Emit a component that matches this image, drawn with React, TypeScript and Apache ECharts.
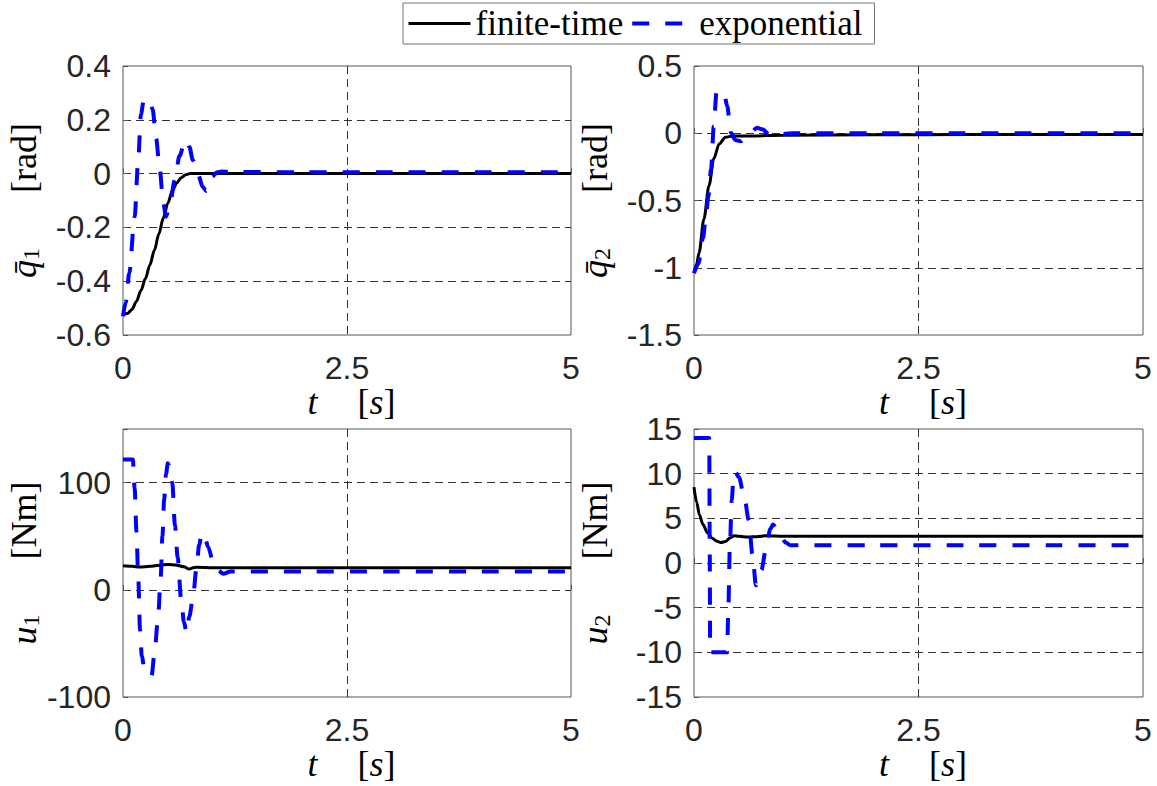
import React, { useEffect, useRef } from "react";
import * as echarts from "echarts";

// ---- data ----
const q1FinT = [0, 0.05, 0.1, 0.15, 0.2, 0.25, 0.3, 0.35, 0.4, 0.45, 0.5, 0.55, 0.6, 0.65, 0.7, 0.75, 0.8, 1, 2, 3, 4, 5];
const q1FinV = [-0.525, -0.52, -0.505, -0.475, -0.435, -0.39, -0.34, -0.285, -0.225, -0.165, -0.11, -0.065, -0.035, -0.015, -0.004, 0, 0, 0, 0, 0, 0, 0];
const q1ExpT = [0, 0.03, 0.07, 0.13, 0.17, 0.2, 0.23, 0.26, 0.3, 0.33, 0.37, 0.41, 0.45, 0.48, 0.52, 0.58, 0.63, 0.69, 0.71, 0.74, 0.78, 0.84, 0.89, 0.93, 0.97, 1.0, 1.05, 1.1, 1.2, 2, 3, 4, 5];
const q1ExpV = [-0.53, -0.48, -0.37, -0.16, 0.05, 0.22, 0.27, 0.28, 0.27, 0.24, 0.13, 0.015, -0.11, -0.16, -0.12, -0.02, 0.065, 0.12, 0.125, 0.1, 0.05, -0.005, -0.05, -0.065, -0.045, -0.01, 0.005, 0.008, 0.006, 0.005, 0.005, 0.005, 0.005];

const q2FinT = [0, 0.03, 0.056, 0.11, 0.167, 0.22, 0.28, 0.35, 0.43, 0.6, 1, 2, 3, 4, 5];
const q2FinV = [-1.04, -0.97, -0.89, -0.64, -0.39, -0.19, -0.08, -0.03, -0.02, -0.02, -0.015, -0.012, -0.01, -0.01, -0.01];
const q2ExpT = [0, 0.05, 0.1, 0.13, 0.16, 0.19, 0.22, 0.25, 0.3, 0.34, 0.37, 0.41, 0.46, 0.52, 0.58, 0.64, 0.7, 0.76, 0.84, 0.91, 1.0, 1.1, 2, 3, 4, 5];
const q2ExpV = [-1.04, -0.97, -0.78, -0.64, -0.47, -0.27, 0.05, 0.3, 0.32, 0.28, 0.2, 0.005, -0.05, -0.06, -0.03, 0.01, 0.04, 0.03, -0.01, -0.02, -0.005, 0, 0, 0, 0, 0];

const u1FinT = [0, 0.1, 0.19, 0.3, 0.41, 0.5, 0.6, 0.68, 0.74, 0.78, 0.82, 1, 1.5, 2, 3, 4, 5];
const u1FinV = [22.4, 22, 21.2, 22, 23, 23.6, 23, 21.5, 19.3, 20.5, 21, 20.5, 20.5, 20.5, 20.5, 20.5, 20.5];
const u1ExpT = [0, 0.11, 0.13, 0.15, 0.17, 0.19, 0.21, 0.24, 0.28, 0.32, 0.35, 0.39, 0.42, 0.44, 0.46, 0.48, 0.5, 0.52, 0.55, 0.58, 0.61, 0.65, 0.68, 0.71, 0.74, 0.78, 0.82, 0.85, 0.88, 0.91, 0.95, 1.0, 1.06, 1.12, 1.2, 2, 3, 4, 5];
const u1ExpV = [121.5, 121.5, 95, 55, 12, -37, -62, -74, -79, -80, -60, -28, 10, 50, 85, 108, 118, 115, 100, 60, 30, -10, -30, -40, -25, -8, 20, 42, 53, 50, 40, 28, 18, 15, 17, 17, 17, 17, 17];

const u2FinT = [0, 0.03, 0.06, 0.1, 0.15, 0.2, 0.25, 0.3, 0.35, 0.4, 0.45, 0.5, 0.6, 0.7, 0.8, 1, 2, 3, 4, 5];
const u2FinV = [8.5, 6.8, 5.4, 4.3, 3.4, 2.8, 2.45, 2.3, 2.4, 2.8, 3.05, 3.0, 2.9, 2.95, 3.05, 3.0, 3.0, 3.0, 3.0, 3.0];
const u2ExpT = [0, 0.17, 0.175, 0.18, 0.37, 0.38, 0.4, 0.42, 0.44, 0.46, 0.5, 0.56, 0.61, 0.65, 0.69, 0.75, 0.8, 0.85, 0.88, 0.92, 0.97, 1.02, 1.07, 1.15, 2, 3, 4, 5];
const u2ExpV = [14, 14, 2, -10, -10, -6, 2, 7, 9.5, 10.2, 9.6, 7.4, 4.8, 1, -2.5, -0.8, 1.5, 3.8, 4.3, 3.9, 3.0, 2.3, 2.0, 2.0, 2.0, 2.0, 2.0, 2.0];

const xTicks = { min: 0, max: 5, interval: 2.5 };
const yRanges = [
  { min: -0.6, max: 0.4, interval: 0.2 },
  { min: -1.5, max: 0.5, interval: 0.5 },
  { min: -100, max: 150, interval: 100 },
  { min: -15, max: 15, interval: 5 },
];
const yNames = [
  { sym: "q\u0304", sub: "1", unit: "[rad]" },
  { sym: "q\u0304", sub: "2", unit: "[rad]" },
  { sym: "u", sub: "1", unit: "[Nm]" },
  { sym: "u", sub: "2", unit: "[Nm]" },
];
const seriesNames = ["finite-time", "exponential"];

const zip = (t: number[], v: number[]) => t.map((x, i) => [x, v[i]]);

const panels = [
  { fin: zip(q1FinT, q1FinV), exp: zip(q1ExpT, q1ExpV) },
  { fin: zip(q2FinT, q2FinV), exp: zip(q2ExpT, q2ExpV) },
  { fin: zip(u1FinT, u1FinV), exp: zip(u1ExpT, u1ExpV) },
  { fin: zip(u2FinT, u2FinV), exp: zip(u2ExpT, u2ExpV) },
];

const grids = [
  { left: 123, top: 66, width: 448, height: 269 },
  { left: 694, top: 66, width: 449, height: 269 },
  { left: 123, top: 429, width: 448, height: 268 },
  { left: 694, top: 429, width: 449, height: 268 },
];

const SANS = "Liberation Sans, Arial, sans-serif";
const SERIF = "Liberation Serif, Times New Roman, serif";
const BLUE_DASH = [17, 16];

export default function App() {
  const ref = useRef<HTMLDivElement>(null);
  useEffect(() => {
    if (!ref.current) return;
    const chart = echarts.init(ref.current, undefined, { renderer: "svg" });
    const splitLine = {
      show: true,
      showMinLine: false,
      showMaxLine: false,
      lineStyle: { type: [8, 5], color: "#333", width: 1 },
    };
    const tick = { show: true, inside: true, length: 5, lineStyle: { color: "#555", width: 1 } };
    const nameRich = {
      i: { fontFamily: SERIF, fontStyle: "italic", fontSize: 36, lineHeight: 32, color: "#000" },
      b: { fontFamily: SERIF, fontSize: 36, lineHeight: 32, color: "#000" },
      sub: { fontFamily: SERIF, fontSize: 24, color: "#000", padding: [14, 0, 0, 0] },
      lead: { width: 9, fontSize: 36, lineHeight: 32 },
      g: { width: 40, fontSize: 36, lineHeight: 32 },
      gy: { width: 55, fontSize: 36 },
    };
    const option: any = {
      animation: false,
      backgroundColor: "#fff",
      legend: {
        left: 403,
        top: 3,
        data: [
          { name: "finite-time", lineStyle: { width: 3, color: "#000" } },
          { name: "exponential", lineStyle: { type: BLUE_DASH, width: 4, color: "#0000ff" } },
        ],
        itemWidth: 62,
        itemHeight: 14,
        itemGap: 7,
        padding: [3, 12, 3, 4],
        borderColor: "#777",
        borderWidth: 1,
        itemStyle: { opacity: 0, color: "rgba(0,0,0,0)", borderWidth: 0 },
        textStyle: { fontFamily: SERIF, fontSize: 35, color: "#000" },
      },
      grid: grids.map((g) => ({
        ...g,
        show: true,
        borderColor: "#555",
        borderWidth: 1,
        backgroundColor: "#fff",
        containLabel: false,
      })),
      xAxis: grids.map((_, i) => ({
        gridIndex: i,
        type: "value",
        ...xTicks,
        axisLine: { show: false },
        axisTick: tick,
        axisLabel: { fontFamily: SANS, fontSize: 32, color: "#262626", margin: 17 },
        splitLine,
        name: "{lead| }{i|t}{g| }{b|[}{i|s}{b|]}",
        nameLocation: "middle",
        nameGap: 51,
        nameMoveOverlap: false,
        nameTextStyle: { rich: nameRich },
      })),
      yAxis: grids.map((_, i) => ({
        gridIndex: i,
        type: "value",
        ...yRanges[i],
        axisLine: { show: false },
        axisTick: tick,
        axisLabel: {
          fontFamily: SANS,
          fontSize: 32,
          color: "#262626",
          margin: 12,
          formatter: (v: number) => (i === 2 && v > 100 ? "" : String(v)),
        },
        splitLine,
        name: `{i|${yNames[i].sym}}{sub|${yNames[i].sub}}{gy| }{b|${yNames[i].unit}}`,
        nameLocation: "middle",
        nameRotate: 90,
        nameGap: 80,
        nameMoveOverlap: false,
        nameTextStyle: { rich: nameRich },
      })),
      series: panels.flatMap((p, i) => [
        {
          name: seriesNames[0],
          type: "line",
          xAxisIndex: i,
          yAxisIndex: i,
          data: p.fin,
          symbol: "none",
          smooth: 0.3,
          smoothMonotone: "x",
          lineStyle: { color: "#000", width: 3 },
          itemStyle: { color: "#000" },
        },
        {
          name: seriesNames[1],
          type: "line",
          xAxisIndex: i,
          yAxisIndex: i,
          data: p.exp,
          symbol: "none",
          smooth: 0.3,
          smoothMonotone: "x",
          lineStyle: { color: "#0000ff", width: 4, type: BLUE_DASH },
          itemStyle: { color: "#0000ff" },
        },
      ]),
    };
    chart.setOption(option);
    return () => chart.dispose();
  }, []);
  return (
    <div
      ref={ref}
      style={{ position: "fixed", left: 0, top: 0, width: 1157, height: 786, background: "#fff" }}
    />
  );
}
